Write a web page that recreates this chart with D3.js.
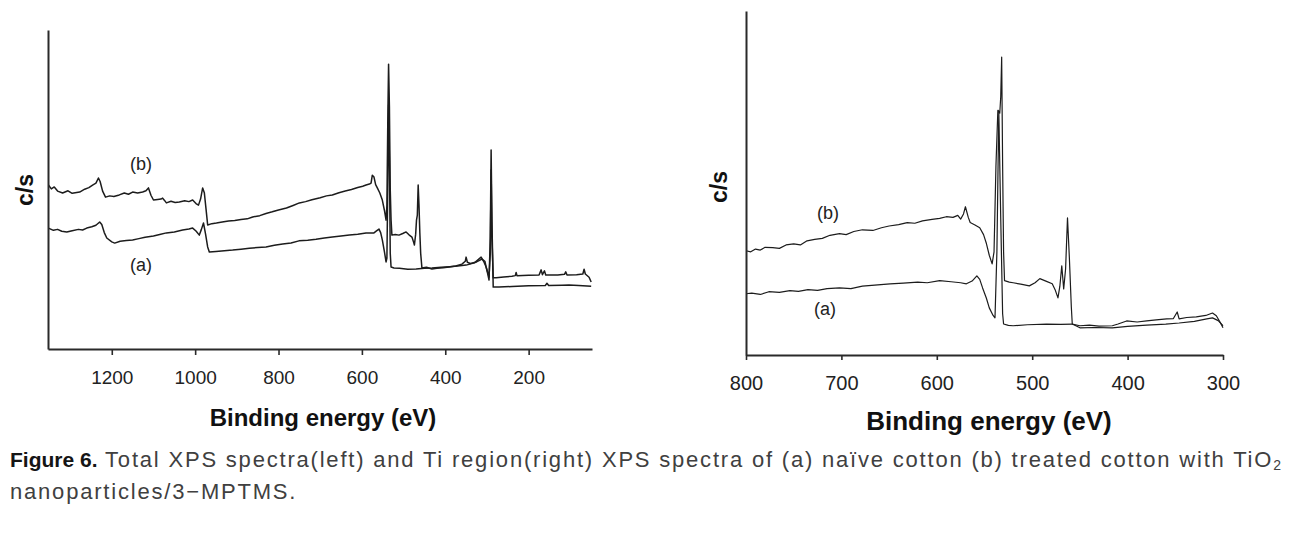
<!DOCTYPE html>
<html>
<head>
<meta charset="utf-8">
<script src="https://cdn.jsdelivr.net/npm/d3@7"></script>
<style>
  html, body { margin: 0; padding: 0; background: #fff; }
  svg { display: block; }
</style>
</head>
<body>
<div id="chart"></div>
<script>
// ---------------- DATA ----------------
// Left panel: total XPS survey spectra, [binding energy (eV), counts (arb. units)]
const totalA = [[1352,37.9],[1340,37.2],[1330,37.5],[1320,36.9],[1308,36.7],[1295,37.1],[1280,37.5],[1270,37.3],[1260,37.9],[1248,38.3],[1238,38.8],[1229,39.8],[1224,39.0],[1218,36.5],[1212,34.8],[1200,33.6],[1193,33.2],[1180,33.8],[1165,34.0],[1150,34.2],[1135,34.6],[1120,35.0],[1100,35.4],[1085,35.9],[1069,36.4],[1050,36.7],[1030,37.3],[1015,37.6],[1006,37.9],[998,37.0],[990,35.7],[985,37.5],[980,39.5],[975,36.0],[970,32.0],[966,30.4],[950,30.6],[930,30.8],[910,31.0],[890,31.3],[870,31.6],[850,31.8],[830,32.0],[810,32.5],[790,32.9],[770,33.2],[751,33.9],[730,34.1],[710,34.4],[690,34.8],[671,35.1],[650,35.4],[630,35.7],[610,36.0],[590,36.4],[571,36.4],[565,37.0],[559,37.6],[555,36.5],[551,34.2],[546,30.5],[542,27.3],[540,28.5],[538,50.0],[536,76.5],[534,60.0],[532,30.0],[530,25.7],[523,25.4],[510,25.3],[490,25.0],[470,25.1],[450,25.3],[432,25.4],[410,25.6],[390,25.8],[370,26.0],[350,26.3],[330,27.0],[314,28.8],[308,27.5],[302,25.7],[298,23.5],[295,21.6],[292,35.0],[290,62.4],[288,40.0],[285,19.4],[271,19.4],[240,19.6],[200,19.8],[160,19.9],[156,20.6],[152,19.9],[120,20.0],[103,20.1],[80,19.9],[50,19.7]];
const totalB = [[1352,51.4],[1345,50.2],[1338,50.8],[1330,49.5],[1318,48.9],[1305,49.6],[1295,48.8],[1277,49.2],[1265,50.1],[1255,50.6],[1246,51.4],[1238,52.0],[1232,53.6],[1228,52.5],[1222,49.5],[1215,47.6],[1205,48.0],[1195,47.8],[1182,48.3],[1170,48.9],[1160,48.5],[1150,49.2],[1138,48.9],[1126,49.2],[1118,49.6],[1112,50.5],[1106,48.2],[1100,46.7],[1090,46.9],[1082,47.0],[1078,47.3],[1073,46.5],[1069,45.8],[1058,46.3],[1048,45.9],[1038,46.1],[1025,46.5],[1015,46.2],[1006,46.7],[998,45.6],[992,45.1],[987,47.0],[982,50.5],[978,49.0],[974,44.0],[970,38.9],[960,39.3],[949,39.5],[935,39.8],[920,40.1],[905,40.3],[890,40.6],[875,40.8],[862,41.4],[845,41.8],[830,42.5],[815,43.0],[800,43.6],[781,44.2],[765,45.0],[750,45.8],[735,46.2],[720,46.8],[700,47.4],[685,48.0],[671,48.3],[655,49.0],[640,49.5],[625,50.0],[610,50.6],[598,51.0],[590,51.4],[582,51.7],[578,52.0],[575,54.5],[571,53.9],[567,51.5],[563,50.5],[557,48.9],[551,46.7],[546,43.5],[542,40.4],[540,45.0],[538,70.0],[536,89.3],[534,76.0],[532,50.0],[530,40.4],[528,35.7],[520,35.9],[511,35.7],[502,36.2],[494,36.7],[487,35.8],[480,35.1],[476,33.5],[474,32.6],[471,36.0],[469,40.4],[467,42.0],[465,51.4],[463,45.0],[461,36.4],[459,30.0],[456,25.4],[445,25.6],[432,25.1],[420,25.3],[405,25.5],[391,25.7],[375,26.0],[360,26.6],[352,27.5],[350,28.8],[347,27.2],[340,26.8],[325,27.3],[312,28.2],[305,27.5],[302,25.7],[298,24.0],[295,22.6],[292,30.0],[290,56.1],[288,35.0],[285,22.3],[278,22.3],[260,22.6],[240,22.8],[232,23.0],[230,24.0],[228,23.0],[200,23.1],[175,23.2],[170,24.8],[167,23.3],[162,24.5],[159,23.2],[130,23.2],[114,23.4],[111,24.2],[108,23.2],[85,23.3],[70,23.5],[67,25.0],[64,23.5],[55,22.5],[50,21.0]];

// Right panel: Ti region spectra, [binding energy (eV), counts (arb. units)]
const tiA = [[800,17.8],[794,18.0],[785,17.6],[776,18.4],[765,18.2],[754,18.7],[745,18.5],[735,19.0],[725,18.8],[715,19.3],[702,19.5],[690,19.3],[678,20.0],[665,20.3],[649,20.7],[635,20.9],[620,21.2],[610,21.0],[597,21.6],[585,21.3],[575,21.0],[569,20.7],[563,21.5],[558,23.0],[555,22.0],[552,19.5],[548,16.5],[545,13.7],[541,11.5],[539,10.8],[537,30.0],[535,71.1],[533,40.0],[531,12.0],[530,9.0],[525,8.6],[520,8.5],[505,8.8],[485,9.0],[470,8.9],[458,9.0],[450,7.9],[435,8.0],[416,7.9],[400,8.3],[380,8.7],[360,9.0],[346,9.3],[330,9.8],[317,10.5],[311,10.8],[305,10.0],[300,8.5]];
const tiB = [[800,30.3],[795,30.0],[790,30.8],[785,30.5],[780,31.3],[772,31.2],[765,31.0],[758,32.0],[750,32.3],[743,32.0],[736,33.2],[728,33.6],[720,33.9],[712,34.8],[702,35.3],[695,35.0],[687,35.9],[678,36.4],[667,36.2],[658,37.0],[650,37.5],[640,37.9],[631,38.5],[623,38.3],[615,39.0],[605,39.4],[597,39.7],[590,40.2],[583,40.0],[578,40.6],[575,39.5],[572,41.0],[570,43.1],[567,40.0],[565,38.5],[560,37.8],[555,37.0],[551,35.0],[548,32.4],[545,29.0],[542,26.5],[540,30.0],[538,55.0],[536,71.1],[534,70.3],[533,75.0],[532,86.6],[531,55.0],[530,30.0],[529,21.6],[524,21.2],[520,21.0],[512,20.6],[503,20.1],[497,21.0],[492,22.2],[485,21.4],[479,20.7],[476,19.0],[473,16.6],[471,20.0],[469,25.9],[467,19.2],[465,25.0],[463,39.9],[461,28.0],[459,14.0],[458,9.0],[450,8.5],[440,8.7],[430,8.4],[416,8.5],[410,9.0],[401,9.9],[390,9.6],[380,9.9],[370,10.2],[359,10.5],[352,10.6],[348,12.5],[346,10.5],[338,10.9],[328,11.1],[318,11.5],[311,12.2],[307,11.4],[303,9.5],[300,7.9]];

const leftTicks = [1200, 1000, 800, 600, 400, 200];
const rightTicks = [800, 700, 600, 500, 400, 300];
const xTitle = "Binding energy (eV)";
const yTitle = "c/s";
const seriesLabels = ["(a)", "(b)"];
const captionBold = "Figure 6.";
const captionLine1 = " Total XPS spectra(left) and Ti region(right) XPS spectra of (a) naïve cotton (b) treated cotton with TiO";
const captionSub = "2";
const captionLine2 = "nanoparticles/3−MPTMS.";

// ---------------- DRAW ----------------
const W = 1294, H = 534;
const svg = d3.select("#chart").append("svg").attr("width", W).attr("height", H);
svg.append("rect").attr("width", W).attr("height", H).attr("fill", "#fff");

const ink = "#1c1c1c";
const sansFont = "'Liberation Sans', Arial, sans-serif";

function panel(cfg) {
  const x = d3.scaleLinear().domain(cfg.xDomain).range(cfg.xRange);
  const y = d3.scaleLinear().domain([0, 100]).range(cfg.yRange);
  const g = svg.append("g");

  const line = d3.line().x(d => x(d[0])).y(d => y(d[1]));
  cfg.series.forEach(s => {
    g.append("path").datum(s).attr("d", line)
      .attr("fill", "none").attr("stroke", ink)
      .attr("stroke-width", cfg.lineWidth).attr("stroke-linejoin", "round");
  });

  const xa = g.append("g").attr("transform", `translate(0,${cfg.yRange[0]})`)
    .call(d3.axisBottom(x).tickValues(cfg.ticks).tickFormat(d3.format("d"))
      .tickSize(cfg.tickSize).tickSizeOuter(0).tickPadding(cfg.tickPad));
  xa.select(".domain").attr("stroke", "#2a2a2a").attr("stroke-width", 2);
  xa.selectAll(".tick line").attr("stroke", "#2a2a2a").attr("stroke-width", 1.6);
  xa.selectAll(".tick text").attr("fill", "#222").attr("font-family", sansFont)
    .attr("font-size", cfg.tickFont);

  const ya = g.append("g").attr("transform", `translate(${cfg.xRange[0]},0)`)
    .call(d3.axisLeft(y).tickValues([]).tickSizeOuter(0));
  ya.select(".domain").attr("stroke", "#2a2a2a").attr("stroke-width", 2);

  g.append("text").attr("x", cfg.xTitlePos[0]).attr("y", cfg.xTitlePos[1])
    .attr("text-anchor", "middle").attr("font-family", sansFont)
    .attr("font-weight", "bold").attr("font-size", cfg.xTitleFont).attr("fill", "#111")
    .text(xTitle);
  g.append("text").attr("transform", `translate(${cfg.yTitlePos[0]},${cfg.yTitlePos[1]}) rotate(-90)`)
    .attr("text-anchor", "middle").attr("dominant-baseline", "central")
    .attr("font-family", sansFont).attr("font-weight", "bold")
    .attr("font-size", 23).attr("fill", "#111").text(yTitle);

  cfg.labelPos.forEach((p, i) => {
    g.append("text").attr("x", p[0]).attr("y", p[1])
      .attr("text-anchor", "middle").attr("dominant-baseline", "central")
      .attr("font-family", sansFont).attr("font-size", 18).attr("fill", "#222")
      .text(seriesLabels[i]);
  });
}

panel({
  xDomain: [1353, 48], xRange: [48, 592], yRange: [349, 30],
  series: [totalA, totalB], ticks: leftTicks, lineWidth: 1.5,
  tickSize: 6, tickPad: 16, tickFont: 19,
  xTitlePos: [323, 426], xTitleFont: 24, yTitlePos: [25, 190],
  labelPos: [[141, 265], [141, 164]]
});

panel({
  xDomain: [800, 300], xRange: [746, 1223], yRange: [355, 11],
  series: [tiA, tiB], ticks: rightTicks, lineWidth: 1.2,
  tickSize: 5, tickPad: 16, tickFont: 20,
  xTitlePos: [989, 430], xTitleFont: 26, yTitlePos: [719, 187],
  labelPos: [[825, 309], [828, 213]]
});

// caption
const capFont = "'Liberation Sans', Arial, sans-serif";
const cap = svg.append("text").attr("x", 10).attr("y", 467)
  .attr("font-family", capFont).attr("font-size", 22).attr("fill", "#404040");
cap.append("tspan").attr("font-weight", "bold").attr("fill", "#151515").attr("font-size", 21).text(captionBold);
const reg = cap.append("tspan").text(captionLine1);
const sub = cap.append("tspan").attr("font-size", 14).attr("dy", 3).text(captionSub);
const cap2 = svg.append("text").attr("x", 10).attr("y", 499)
  .attr("font-family", capFont).attr("font-size", 22).attr("fill", "#404040")
  .text(captionLine2);

// fit caption line 1 to the reference width by spacing the regular text
const targetRight = 1283;
const bb = cap.node().getBBox();
const nReg = captionLine1.length + captionSub.length;
const ls = (targetRight - (bb.x + bb.width)) / nReg;
reg.attr("letter-spacing", ls);
sub.attr("letter-spacing", ls);
cap2.attr("letter-spacing", ls);
</script>
</body>
</html>
